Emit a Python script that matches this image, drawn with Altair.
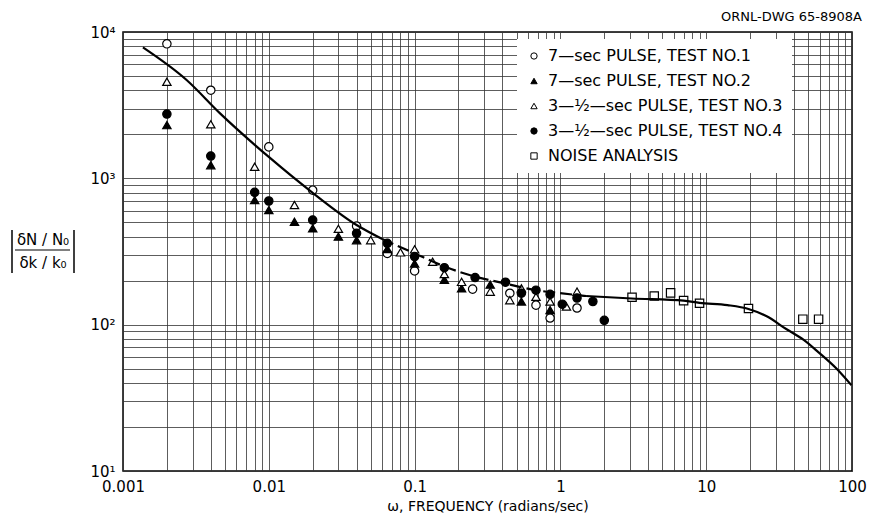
import altair as alt
import pandas as pd

# ---------------- data ----------------
SERIES_NAMES = [
    "7—sec PULSE, TEST NO.1",
    "7—sec PULSE, TEST NO.2",
    "3—½—sec PULSE, TEST NO.3",
    "3—½—sec PULSE, TEST NO.4",
    "NOISE ANALYSIS",
]
SERIES_SHAPES = ["circle", "triangle-up", "triangle-up", "circle", "square"]
SERIES_FILLS = ["white", "black", "white", "black", "white"]
SERIES_STROKES = ["black", "black", "black", "black", "black"]

T1_X = [0.002, 0.004, 0.01, 0.02, 0.04, 0.065, 0.1, 0.25, 0.45, 0.68, 0.85, 1.3]
T1_Y = [8300, 4000, 1640, 830, 472, 307, 233, 175, 164, 136, 111, 130]

T2_X = [0.002, 0.004, 0.008, 0.01, 0.015, 0.02, 0.03, 0.04, 0.065, 0.1, 0.16, 0.21, 0.33, 0.54, 0.85]
T2_Y = [2310, 1230, 710, 607, 505, 455, 400, 378, 329, 262, 203, 177, 188, 144, 126]

T3_X = [0.002, 0.004, 0.008, 0.015, 0.03, 0.05, 0.08, 0.1, 0.133, 0.16, 0.21, 0.33, 0.45, 0.54, 0.68, 0.85, 1.1, 1.3]
T3_Y = [4570, 2340, 1200, 657, 452, 378, 312, 327, 269, 222, 196, 168, 147, 177, 155, 144, 133, 168]

T4_X = [0.002, 0.004, 0.008, 0.01, 0.02, 0.04, 0.065, 0.1, 0.16, 0.26, 0.42, 0.54, 0.68, 0.85, 1.03, 1.3, 1.67, 2.0]
T4_Y = [2750, 1420, 802, 700, 519, 421, 360, 292, 245, 210, 195, 164, 172, 161, 138, 152, 144, 107]

NOISE_X = [3.1, 4.4, 5.7, 7.0, 9.0, 19.5, 46, 59]
NOISE_Y = [154, 157, 165, 146, 140, 129, 109, 109]

CURVE1_X = [0.00137, 0.00273, 0.00463, 0.01, 0.0202, 0.04, 0.06]
CURVE1_Y = [7850, 4700, 2780, 1400, 790, 480, 385]
CURVE_DASH_X = [0.06, 0.1, 0.16, 0.26, 0.4, 0.68, 0.95, 1.5]
CURVE_DASH_Y = [385, 307, 250, 213, 193, 172, 165, 157]
CURVE2_X = [1.5, 3.1, 7.0, 9.0, 14, 19.5, 26, 35.6, 46.4, 58.7, 78.5, 99]
CURVE2_Y = [157, 151, 146, 141, 136, 128, 114, 93, 79, 65, 50, 38.6]

X_MAJOR = [0.001, 0.01, 0.1, 1, 10, 100]
X_TICK_LABELS = ["0.001", "0.01", "0.1", "1", "10", "100"]
Y_MAJOR = [10, 100, 1000, 10000]
Y_TICK_LABELS = ["10¹", "10²", "10³", "10⁴"]

X_TITLE = "ω, FREQUENCY (radians/sec)"
DRAWING_NO = "ORNL-DWG 65-8908A"
Y_NUM = "δN / N₀"
Y_DEN = "δk / k₀"

FONT = "DejaVu Sans"

# ---------------- tables ----------------
rows = []
for name, xs, ys in zip(SERIES_NAMES, [T1_X, T2_X, T3_X, T4_X, NOISE_X],
                        [T1_Y, T2_Y, T3_Y, T4_Y, NOISE_Y]):
    for xv, yv in zip(xs, ys):
        rows.append({"w": xv, "r": yv, "series": name})
points = pd.DataFrame(rows)

curve_rows = []
for seg, xs, ys in [("a", CURVE1_X, CURVE1_Y), ("b", CURVE2_X, CURVE2_Y)]:
    for xv, yv in zip(xs, ys):
        curve_rows.append({"w": xv, "r": yv, "seg": seg})
curve_solid = pd.DataFrame(curve_rows)
curve_dash = pd.DataFrame({"w": CURVE_DASH_X, "r": CURVE_DASH_Y})

x_grid = [float(f"{m}e{e}") for e in range(-3, 2) for m in range(1, 10)] + [100.0]
y_grid = [float(f"{m}e{e}") for e in range(1, 4) for m in range(1, 10)] + [10000.0]

def label_expr(majors, labels):
    arr = "[" + ",".join(repr(float(v)) for v in majors) + "]"
    labs = "[" + ",".join("'" + l + "'" for l in labels) + "]"
    return f"indexof({arr}, datum.value) >= 0 ? {labs}[indexof({arr}, datum.value)] : ''"

xscale = alt.Scale(type="log", domain=[0.001, 100], nice=False)
yscale = alt.Scale(type="log", domain=[10, 10000], nice=False)

x_axis = alt.Axis(values=x_grid, labelExpr=label_expr(X_MAJOR, X_TICK_LABELS),
                  title=X_TITLE, grid=True, ticks=False, domain=False,
                  labelPadding=8, titlePadding=5, labelFontSize=15, titleFontSize=14,
                  titleFontWeight="normal", labelFlush=False, labelOverlap=False)
y_axis = alt.Axis(values=y_grid, labelExpr=label_expr(Y_MAJOR, Y_TICK_LABELS),
                  title=None, grid=True, ticks=False, domain=False,
                  labelPadding=8, labelFontSize=15, labelFlush=False, labelOverlap=False)

leg = alt.Legend(title=None)
pts = alt.Chart(points).mark_point(filled=True, strokeWidth=1.2,
                                   size=70, opacity=1).encode(
    x=alt.X("w:Q", scale=xscale, axis=x_axis),
    y=alt.Y("r:Q", scale=yscale, axis=y_axis),
    shape=alt.Shape("series:N", scale=alt.Scale(domain=SERIES_NAMES, range=SERIES_SHAPES),
                    legend=leg),
    fill=alt.Fill("series:N", scale=alt.Scale(domain=SERIES_NAMES, range=SERIES_FILLS),
                  legend=leg),
    stroke=alt.Stroke("series:N", scale=alt.Scale(domain=SERIES_NAMES, range=SERIES_STROKES),
                      legend=leg),
)

line_solid = alt.Chart(curve_solid).mark_line(color="black", strokeWidth=2.2,
                                              interpolate="monotone").encode(
    x=alt.X("w:Q", scale=xscale), y=alt.Y("r:Q", scale=yscale), detail="seg:N")
line_dash = alt.Chart(curve_dash).mark_line(color="black", strokeWidth=2.2,
                                            interpolate="monotone",
                                            strokeDash=[12, 5]).encode(
    x=alt.X("w:Q", scale=xscale), y=alt.Y("r:Q", scale=yscale))

def text_at(txt, x, y, size=14, align="center"):
    return alt.Chart(pd.DataFrame({"t": [txt]})).mark_text(
        font=FONT, fontSize=size, align=align, baseline="middle", color="black"
    ).encode(x=alt.value(x), y=alt.value(y), text="t:N")

def rule_at(x, x2, y, y2, w=1.5):
    return alt.Chart(pd.DataFrame({"k": [0]})).mark_rule(color="black", strokeWidth=w).encode(
        x=alt.value(x), x2=alt.value(x2), y=alt.value(y), y2=alt.value(y2))

annotations = [
    text_at(Y_NUM, -80, 208, size=15),
    text_at(Y_DEN, -80, 231, size=15),
    rule_at(-108, -53, 218, 218, 1.2),
    rule_at(-111, -111, 198, 241, 1.5),
    rule_at(-49, -49, 198, 241, 1.5),
    text_at(DRAWING_NO, 739, -15, size=13, align="right"),
]

chart = alt.layer(pts, line_solid, line_dash, *annotations).properties(
    width=729, height=439,
    padding={"left": 115, "top": 24, "right": 17, "bottom": 44},
    autosize=alt.AutoSizeParams(type="none"),
).configure_view(
    stroke="black", strokeWidth=1.5
).configure_axis(
    gridColor="#333333", gridWidth=0.8, gridOpacity=1,
    labelFont=FONT, titleFont=FONT, labelColor="black", titleColor="black",
).configure_legend(
    orient="none", legendX=394, legendY=7, fillColor="white", padding=9,
    labelFont=FONT, labelFontSize=16, labelColor="black", labelLimit=400,
    symbolSize=40, symbolStrokeWidth=1,
    rowPadding=9, labelOffset=6,
)

chart.save("out.html", embed_options={"renderer": "svg", "actions": False})
